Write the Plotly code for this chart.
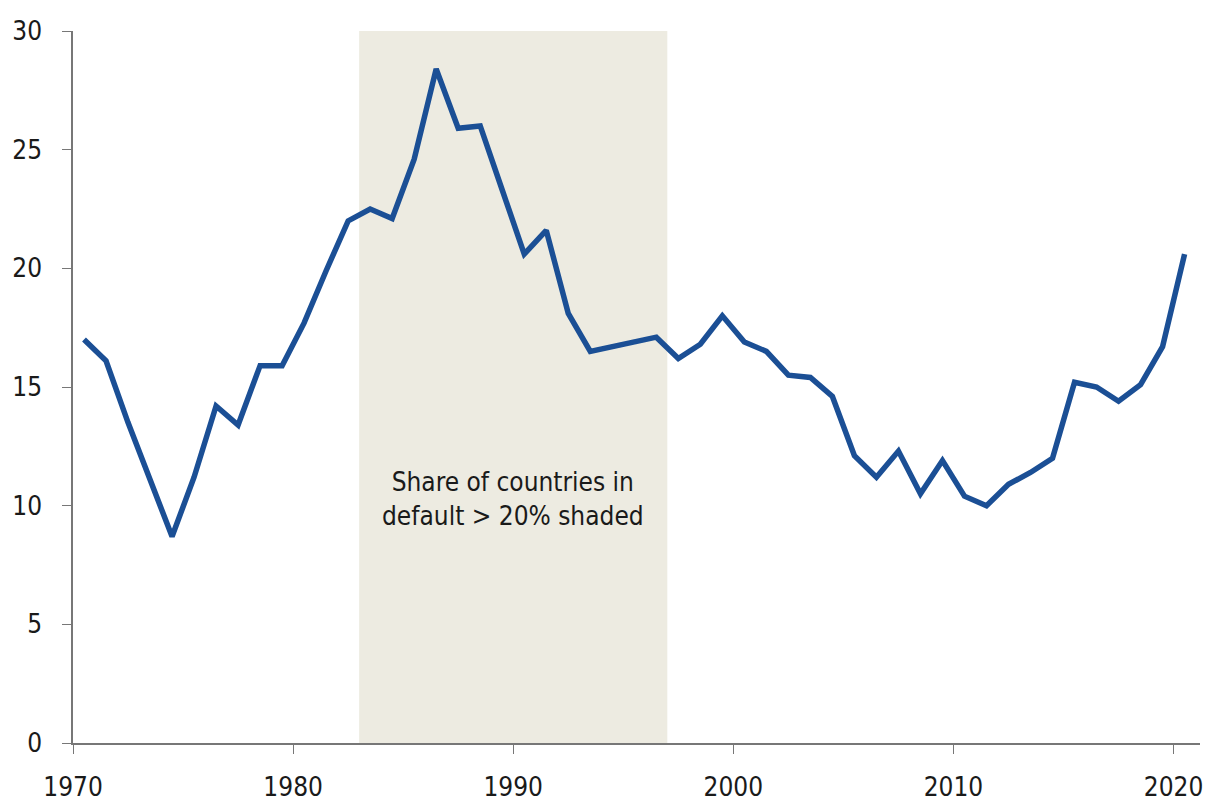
import plotly.graph_objects as go

# mid-year observations, 1970.5 ... 2020.5
years = [y + 0.5 for y in range(1970, 2021)]
share = [17.0, 16.1, 13.5, 11.1, 8.7, 11.2, 14.2, 13.4, 15.9, 15.9,
         17.7, 19.9, 22.0, 22.5, 22.1, 24.6, 28.4, 25.9, 26.0, 23.3,
         20.6, 21.6, 18.1, 16.5, 16.7, 16.9, 17.1, 16.2, 16.8, 18.0,
         16.9, 16.5, 15.5, 15.4, 14.6, 12.1, 11.2, 12.3, 10.5, 11.9,
         10.4, 10.0, 10.9, 11.4, 12.0, 15.2, 15.0, 14.4, 15.1, 16.7,
         20.6]

shade_start, shade_end = 1983, 1997
note = "Share of countries in<br>default > 20% shaded"

font = "DejaVu Sans Condensed, DejaVu Sans, sans-serif"

fig = go.Figure()
fig.add_shape(type="rect", xref="x", yref="y", x0=shade_start, x1=shade_end,
              y0=0, y1=30, fillcolor="#edebe1", line_width=0, layer="below")
fig.add_trace(go.Scatter(x=years, y=share, mode="lines",
                         line=dict(color="#1b4f95", width=5.5)))
fig.add_annotation(x=(shade_start + shade_end) / 2, y=10.3, text=note,
                   showarrow=False, font=dict(family=font, size=26, color="#1a1a1a"))

# page body adds an 8px offset, so the figure is a bit smaller than the window
fig.update_layout(
    width=1203, height=796,
    margin=dict(l=65, r=11, t=23, b=61),
    plot_bgcolor="white", paper_bgcolor="white",
    showlegend=False,
    font=dict(family=font, size=26, color="#1a1a1a"),
)
fig.update_xaxes(range=[1970, 2021.2], tickvals=[1970, 1980, 1990, 2000, 2010, 2020],
                 showgrid=False, zeroline=False, showline=True, linecolor="#777",
                 linewidth=1.5, ticks="outside", ticklen=9, tickcolor="#777",
                 ticklabelstandoff=11, automargin=False)
fig.update_yaxes(range=[0, 30], tickvals=[0, 5, 10, 15, 20, 25, 30],
                 showgrid=False, zeroline=False, showline=True, linecolor="#777",
                 linewidth=1.5, ticks="outside", ticklen=9, tickcolor="#777",
                 ticklabelstandoff=15, automargin=False)

fig.write_html("out.html")
